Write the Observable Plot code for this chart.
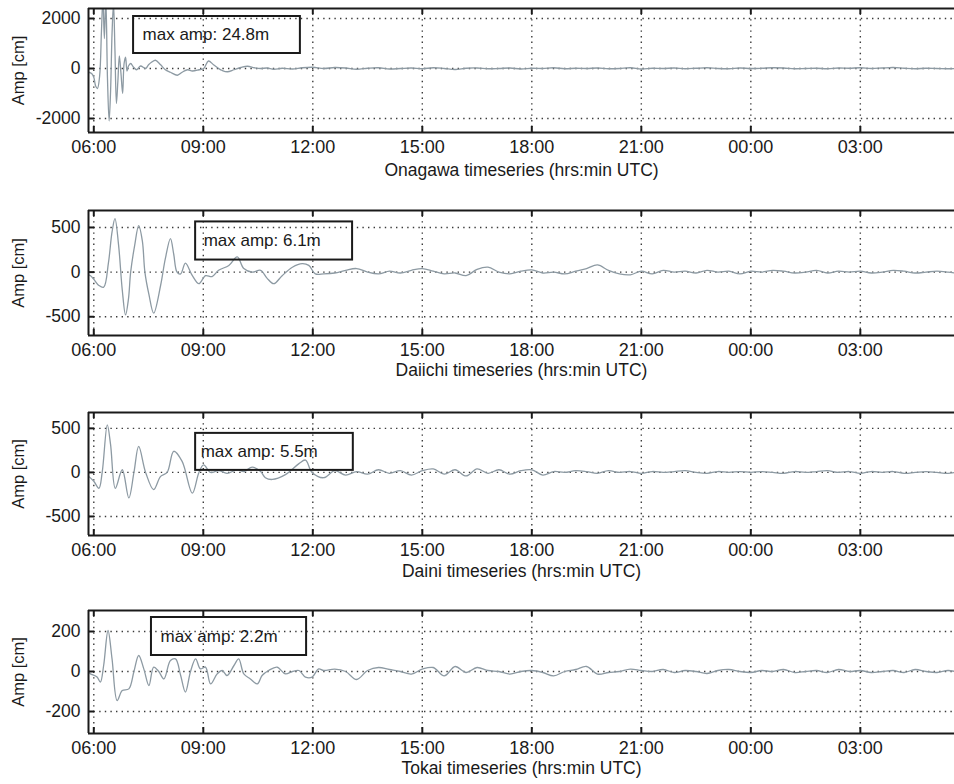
<!DOCTYPE html>
<html><head><meta charset="utf-8">
<script src="https://cdn.jsdelivr.net/npm/d3@7"></script>
<script src="https://cdn.jsdelivr.net/npm/@observablehq/plot@0.6"></script>
<style>
body{margin:0;background:#fff;}
#chart{width:954px;}
#chart svg{display:block;}
</style></head><body><div id="chart"></div>
<script>
// x positions: hours after 06:00 UTC
const xTickHours = [0, 3, 6, 9, 12, 15, 18, 21];
const xTickLabels = ["06:00", "09:00", "12:00", "15:00", "18:00", "21:00", "00:00", "03:00"];

const stations = ["Onagawa", "Daiichi", "Daini", "Tokai"];
const maxAmpLabels = ["max amp: 24.8m", "max amp: 6.1m", "max amp: 5.5m", "max amp: 2.2m"];

const onagawaTicks = [-2000, 0, 2000];
const daiichiTicks = [-500, 0, 500];
const dainiTicks = [-500, 0, 500];
const tokaiTicks = [-200, 0, 200];

// shared time stamps for the quiet tail of each record
const lateHours = [6.6, 6.9, 7.2, 7.5, 7.8, 8.1, 8.4, 8.7, 9.0, 9.3,
  9.6, 9.9, 10.2, 10.5, 10.8, 11.1, 11.4, 11.7, 12.0, 12.3,
  12.6, 12.9, 13.2, 13.5, 13.8, 14.1, 14.4, 14.7, 15.0, 15.3,
  15.6, 15.9, 16.2, 16.5, 16.8, 17.1, 17.4, 17.7, 18.0, 18.3,
  18.6, 18.9, 19.2, 19.5, 19.8, 20.1, 20.4, 20.7, 21.0, 21.3,
  21.6, 21.9, 22.2, 22.5, 22.8, 23.1, 23.4, 23.6];

// Onagawa
const onagawaEarlyHours = [-0.14, -0.06, 0, 0.05, 0.10, 0.16, 0.21, 0.25, 0.29, 0.33,
  0.375, 0.42, 0.46, 0.50, 0.54, 0.58, 0.62, 0.66, 0.70, 0.745,
  0.79, 0.83, 0.87, 0.91, 0.95, 1.01, 1.09, 1.17, 1.28, 1.42,
  1.50, 1.58, 1.69, 1.83, 1.96, 2.10, 2.29, 2.42, 2.57, 2.70,
  2.88, 3.01, 3.14, 3.28, 3.42, 3.52, 3.66, 3.84, 4.03, 4.21,
  4.40, 4.57, 4.75, 4.93, 5.16, 5.44, 5.71, 6.0, 6.3];
const onagawaEarlyAmp = [-150, -200, -350, -700, -800, -300, 1500, 2800, 1200, 2800,
  -400, -2100, -900, 1400, 2600, 700, -1400, -500, 500, -200,
  -1000, 200, 450, -100, 100, 200, 50, -50, 100, 0,
  150, 250, 330, 150, -50, -150, -270, -150, -50, -100,
  -50, 0, 300, 150, 0, -80, -130, -50, 40, 90,
  30, 0, 20, -30, 10, -20, 30, 50, 0];
const onagawaLateAmp = [40, 20, -30, 10, 30, -20, 0, 20, -10, 30,
  0, -40, 10, 20, -10, 0, 20, -20, 10, 0,
  30, -10, 10, 0, 20, -10, 0, 30, -20, 10,
  0, 20, -10, 10, 30, 0, -10, 20, 0, 10,
  30, 20, -10, 0, 10, -10, 20, 10, 30, 0,
  20, 40, 10, -10, 10, 0, -10, 0];

// Daiichi
const daiichiEarlyHours = [-0.14, -0.09, 0, 0.14, 0.27, 0.40, 0.50, 0.58, 0.68, 0.78,
  0.87, 0.95, 1.01, 1.12, 1.23, 1.33, 1.40, 1.51, 1.64, 1.83,
  1.96, 2.10, 2.19, 2.28, 2.38, 2.51, 2.70, 2.88, 3.06, 3.24,
  3.42, 3.70, 3.93, 4.11, 4.34, 4.57, 4.75, 4.93, 5.16, 5.44,
  5.71, 5.89, 6.07, 6.30];
const daiichiEarlyAmp = [-30, -40, -80, -150, -170, 100, 450, 600, 300, -200,
  -480, -300, 0, 300, 520, 350, 0, -250, -460, -150,
  150, 375, 200, 0, -20, 100, -40, -130, -40, -50,
  20, 75, 170, 40, 0, 20, -70, -130, -40, 55,
  95, 75, -20, -20];
const daiichiLateAmp = [-10, 20, 40, 0, -20, 10, -10, 20, 40, 10,
  -20, -10, -40, 30, 55, 0, -20, 10, 25, -10,
  0, -20, 10, 40, 80, 20, -20, -30, 10, -20,
  20, 0, 10, -10, 20, 0, 10, -20, 10, 0,
  20, 10, -10, 0, 20, -10, 10, 0, 10, -10,
  0, 20, 10, -10, 0, 10, 0, -10];

// Daini
const dainiEarlyHours = [-0.14, 0, 0.14, 0.23, 0.37, 0.46, 0.59, 0.78, 0.96, 1.10,
  1.23, 1.42, 1.64, 1.83, 2.01, 2.19, 2.42, 2.70, 2.88, 3.01,
  3.20, 3.42, 3.65, 3.93, 4.11, 4.34, 4.57, 4.70, 4.89, 5.25,
  5.62, 5.80, 5.98, 6.30];
const dainiEarlyAmp = [-45, -100, -180, 0, 540, 315, -180, 30, -290, 0,
  295, 0, -195, -45, 0, 240, 125, -235, 0, 85,
  0, 20, -10, 30, 10, 60, 10, -60, -80, -25,
  100, 140, 0, -60];
const dainiLateAmp = [20, -30, 10, -20, 30, -10, 20, -30, 20, 40,
  -20, 30, -40, 40, -10, 30, -20, 20, 30, -30,
  10, 0, 20, 10, -10, 20, 0, 10, -10, 10,
  0, 10, 20, 0, -10, 10, 0, 10, 0, 10,
  0, -10, 10, 0, 10, 20, 0, 10, -10, 10,
  0, 10, -10, 0, 10, 0, -10, 0];

// Tokai
const tokaiEarlyHours = [-0.14, -0.09, 0.09, 0.18, 0.27, 0.39, 0.50, 0.64, 0.78, 0.96,
  1.10, 1.23, 1.37, 1.51, 1.64, 1.78, 1.92, 2.10, 2.24, 2.38,
  2.51, 2.65, 2.79, 2.92, 3.06, 3.20, 3.38, 3.52, 3.65, 3.84,
  3.97, 4.11, 4.29, 4.48, 4.61, 4.79, 5.02, 5.25, 5.44, 5.62,
  5.80, 5.98, 6.16, 6.30];
const tokaiEarlyAmp = [-5, -12, -28, -53, 30, 205, 63, -145, -95, -87,
  0, 80, 13, -70, 22, 0, -37, 55, 63, -20,
  -103, 0, 63, 13, 22, -62, -12, 5, -20, 30,
  63, -12, -37, -62, -20, 5, 22, -12, 0, 5,
  -28, -28, 13, 5];
const tokaiLateAmp = [12, 0, -40, 5, 20, 10, 0, -13, 12, 20,
  -22, 25, -5, 20, 5, 0, -13, 0, 5, -5,
  -22, 0, 10, 25, -13, -5, 0, 12, 5, 0,
  10, -5, 5, 0, -10, 5, 10, 0, -5, 5,
  0, 10, -5, 0, 5, -5, 10, 0, 5, -5,
  0, 5, -5, 10, 0, -5, 5, 0];

// ---- layout / style (not data) ----
const xDomain = [-0.145, 23.58];
const font = "'Liberation Sans', Arial, Helvetica, sans-serif";
const ink = "#1a1a1a";
const panels = [
  {hours: onagawaEarlyHours.concat(lateHours), amp: onagawaEarlyAmp.concat(onagawaLateAmp), ticks: onagawaTicks,
   yDomain: [-2560, 2400], box: {x1: 1.09, x2: 5.66, y1: 600, y2: 2080}, dx: 9,
   height: 200, mt: 8, mb: 68, titleDy: 43},
  {hours: daiichiEarlyHours.concat(lateHours), amp: daiichiEarlyAmp.concat(daiichiLateAmp), ticks: daiichiTicks,
   yDomain: [-710, 690], box: {x1: 2.79, x2: 7.09, y1: 135, y2: 562}, dx: 8,
   height: 200, mt: 10, mb: 65, titleDy: 40},
  {hours: dainiEarlyHours.concat(lateHours), amp: dainiEarlyAmp.concat(dainiLateAmp), ticks: dainiTicks,
   yDomain: [-716, 680], box: {x1: 2.79, x2: 7.11, y1: 23, y2: 443}, dx: 5,
   height: 200, mt: 12, mb: 65, titleDy: 41},
  {hours: tokaiEarlyHours.concat(lateHours), amp: tokaiEarlyAmp.concat(tokaiLateAmp), ticks: tokaiTicks,
   yDomain: [-310, 305], box: {x1: 1.58, x2: 5.83, y1: 80, y2: 270}, dx: 9,
   height: 184, mt: 10, mb: 51, titleDy: 40}
];

const chart = document.getElementById("chart");
panels.forEach((p, k) => {
  const data = p.hours.map((h, i) => ({h, v: p.amp[i]}));
  const [yb, yt] = p.yDomain;
  const innerH = p.height - p.mt - p.mb;
  const innerW = 954 - 88;
  const yTick = (yt - yb) * 6 / innerH;
  const xTick = (xDomain[1] - xDomain[0]) * 6 / innerW;
  const dot = {stroke: "#3a3a3a", strokeWidth: 1.4, strokeDasharray: "1.4,4.2"};
  const svg = Plot.plot({
    width: 954, height: p.height,
    marginTop: p.mt, marginBottom: p.mb, marginLeft: 88, marginRight: 0,
    style: {fontFamily: font, fontSize: "18px", color: ink, background: "white", overflow: "visible"},
    x: {domain: xDomain},
    y: {domain: p.yDomain},
    marks: [
      Plot.ruleX(xTickHours, dot),
      Plot.ruleY(p.ticks, dot),
      Plot.line(data, {x: "h", y: "v", stroke: "#8d9aa3", strokeWidth: 1.3, curve: "catmull-rom", clip: true}),
      Plot.rect([p.box], {x1: "x1", x2: "x2", y1: "y1", y2: "y2", fill: "none", stroke: ink, strokeWidth: 2}),
      Plot.text([maxAmpLabels[k]], {x: p.box.x1, y: (p.box.y1 + p.box.y2) / 2, dx: p.dx,
        textAnchor: "start", fontSize: 17, fill: ink}),
      // frame (top, bottom, left)
      Plot.ruleY([yt, yb], {stroke: ink, strokeWidth: 2}),
      Plot.ruleX([xDomain[0]], {stroke: ink, strokeWidth: 2}),
      // inward tick marks
      Plot.ruleX(xTickHours, {y1: yt, y2: yt - yTick, stroke: ink, strokeWidth: 2}),
      Plot.ruleX(xTickHours, {y1: yb, y2: yb + yTick, stroke: ink, strokeWidth: 2}),
      Plot.ruleY(p.ticks, {x1: xDomain[0], x2: xDomain[0] + xTick, stroke: ink, strokeWidth: 2}),
      Plot.axisX(xTickHours, {tickSize: 0, tickPadding: 8, label: null,
        tickFormat: d => xTickLabels[xTickHours.indexOf(d)], fontSize: 18}),
      Plot.axisY(p.ticks, {tickSize: 0, tickPadding: 8, label: null, tickFormat: d => String(d), fontSize: 17.5}),
      Plot.text([stations[k] + " timeseries (hrs:min UTC)"], {frameAnchor: "bottom", dy: p.titleDy, fontSize: 17.5, fill: ink}),
      Plot.text(["Amp [cm]"], {frameAnchor: "left", textAnchor: "middle", dx: -70, rotate: -90, fontSize: 16.5, fill: ink})
    ]
  });
  chart.appendChild(svg);
});
</script>
</body></html>
